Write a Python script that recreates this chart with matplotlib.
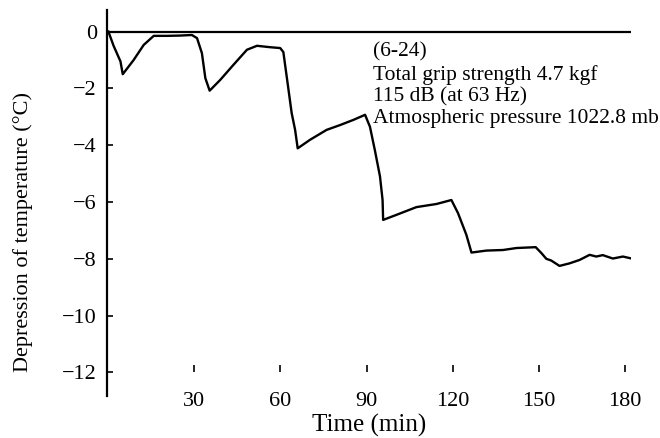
import matplotlib
matplotlib.use("Agg")
import matplotlib.pyplot as plt

time_min = [0, 1.8, 4.2, 5.0, 8.8, 12.3, 15.8, 20.4, 25.0, 29.1, 30.9, 32.6, 33.8, 35.3,
            39.0, 43.6, 48.3, 51.8, 56.4, 59.9, 61.0, 62.8, 63.9, 65.1, 66.0, 70.3, 76.1,
            80.8, 85.4, 89.5, 91.2, 92.9, 94.7, 95.6, 95.8, 100.5, 107.4, 114.4, 119.6,
            121.9, 124.8, 126.6, 131.8, 137.6, 142.3, 149.0, 151.0, 152.7, 154.4, 157.3,
            160.8, 164.3, 167.8, 170.1, 172.4, 175.9, 179.4, 182.0]
depression = [0, -0.5, -1.05, -1.5, -1.0, -0.47, -0.15, -0.15, -0.14, -0.12, -0.23, -0.76,
              -1.64, -2.08, -1.70, -1.17, -0.64, -0.50, -0.55, -0.58, -0.72, -2.05, -2.87,
              -3.46, -4.11, -3.81, -3.46, -3.29, -3.11, -2.93, -3.35, -4.17, -5.1, -5.93,
              -6.63, -6.45, -6.18, -6.07, -5.93, -6.39, -7.15, -7.78, -7.71, -7.69, -7.62,
              -7.59, -7.80, -8.00, -8.06, -8.25, -8.16, -8.04, -7.86, -7.92, -7.87, -7.99,
              -7.92, -7.98]
x_ticks = [30, 60, 90, 120, 150, 180]
y_ticks = [0, -2, -4, -6, -8, -10, -12]
note_lines = ["(6-24)", "Total grip strength 4.7 kgf", "115 dB (at 63 Hz)",
              "Atmospheric pressure 1022.8 mb"]

plt.rcParams['font.family'] = ['Liberation Serif', 'DejaVu Serif']

fig = plt.figure(figsize=(6.6, 4.38), dpi=100)
ax = fig.add_axes([106.7 / 660, 1 - 396 / 438, 524.5 / 660, 386 / 438])

ax.plot(time_min, depression, color='black', lw=1.7, solid_joinstyle='round')
ax.axhline(0, color='black', lw=1.6)

ax.set_xlim(-0.6, 182.3)
ax.set_ylim(-12.83, 0.76)

for s in ['top', 'right']:
    ax.spines[s].set_visible(False)
ax.spines['left'].set_linewidth(1.6)
ax.spines['bottom'].set_position(('data', -12))
ax.spines['bottom'].set_visible(False)

ax.set_xticks(x_ticks)
ax.set_yticks(y_ticks)
ax.set_yticklabels([f"\u2212{abs(v)}" if v < 0 else str(v) for v in y_ticks])
ax.tick_params(axis='x', direction='in', length=5, width=1.2, pad=14, labelsize=16)
ax.tick_params(axis='y', direction='in', length=4, width=1.2, pad=7, labelsize=16)

ax.set_xlabel("Time (min)", fontsize=18)
ax.set_ylabel("Depression of temperature (\u00b0C)", fontsize=16)
ax.yaxis.set_label_coords(-0.141, 0.425)
ax.xaxis.set_label_coords(0.5, -0.046)
ax.xaxis.label.set_va('top')

ax.text(92.2, -0.38, "\n".join(note_lines), fontsize=15.5, va='top', ha='left',
        linespacing=1.2)

fig.savefig("out.png", dpi=100)
